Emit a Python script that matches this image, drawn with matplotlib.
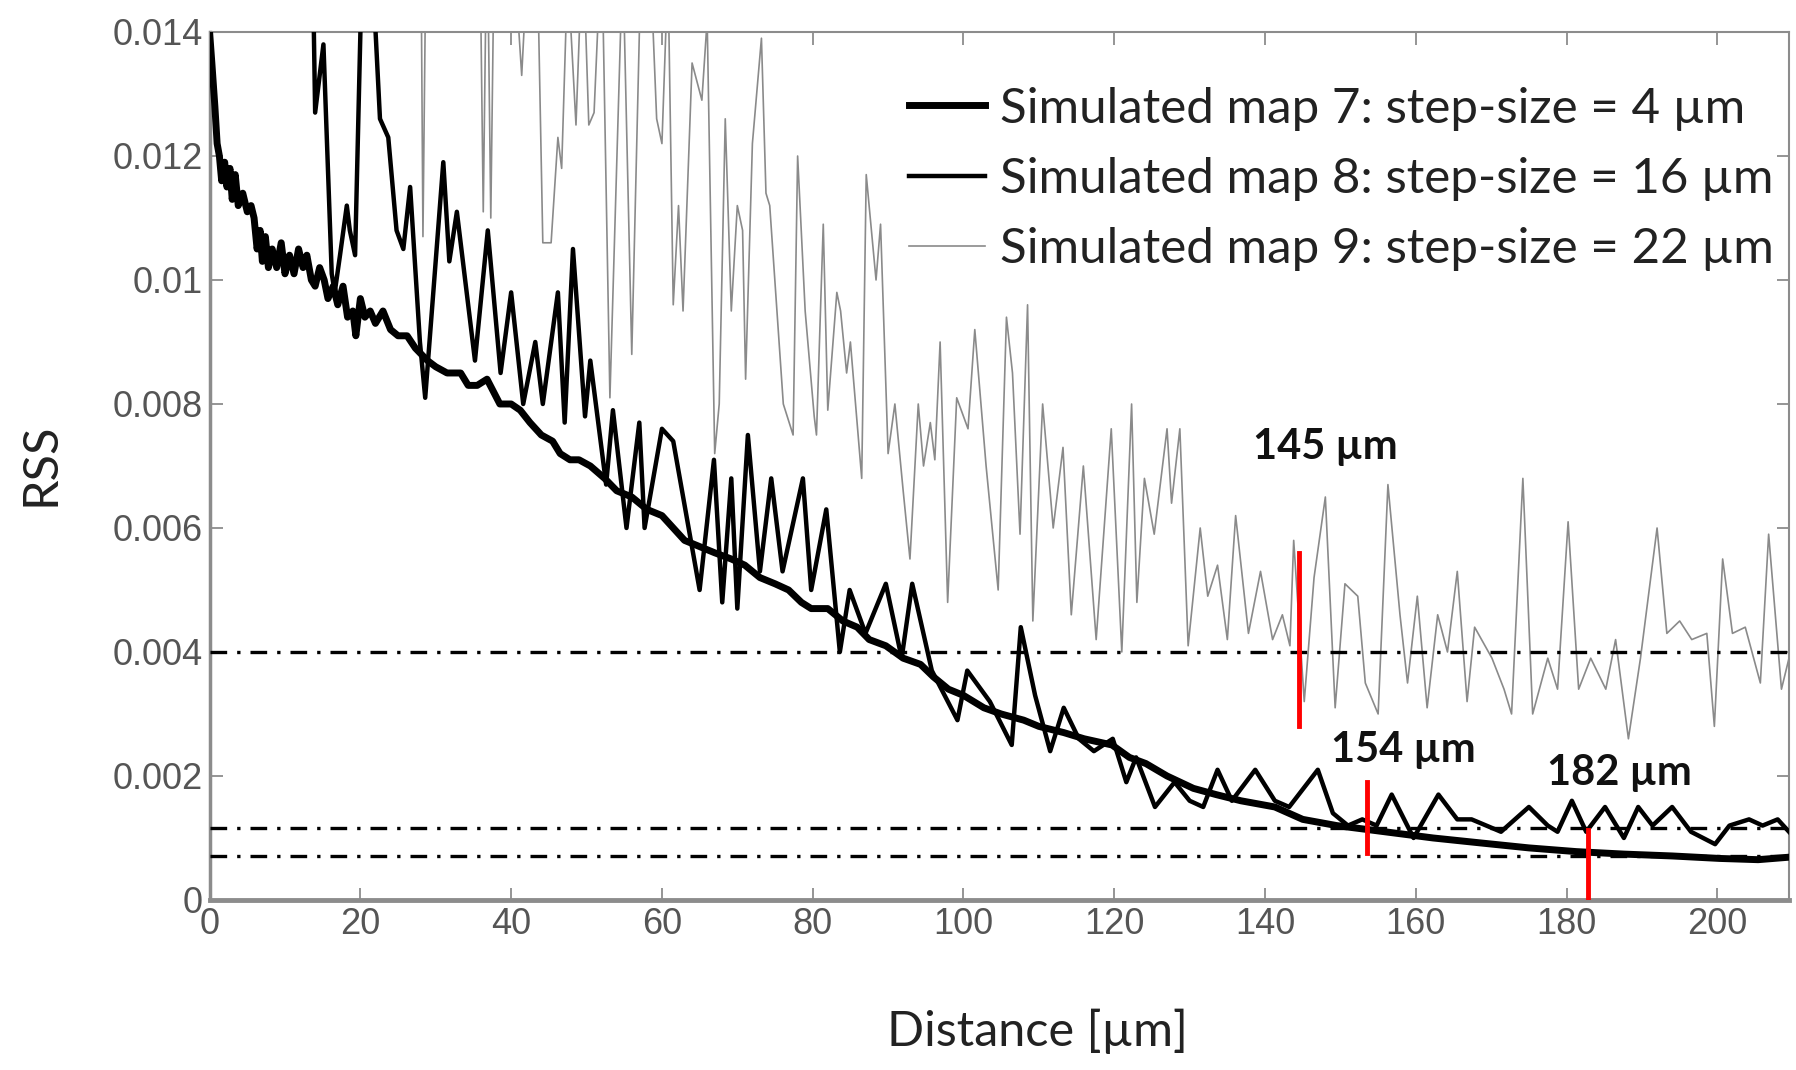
import numpy as np
import matplotlib
matplotlib.use("Agg")
import matplotlib.pyplot as plt

# --- data ---------------------------------------------------------------
# simulated map 7 (step-size 4 um)
map7_x = [0.0, 0.3, 0.7, 1.0, 1.3, 1.6, 2.0, 2.3, 2.7, 3.0, 3.4, 3.8, 4.4, 5.0, 5.5,
          5.9, 6.3, 6.7, 7.0, 7.4, 7.8, 8.3, 8.9, 9.5, 10.0, 10.6, 11.2, 11.8, 12.4,
          12.9, 13.5, 14.0, 14.6, 15.2, 15.7, 16.4, 17.0, 17.7, 18.3, 19.0, 19.4,
          20.0, 20.6, 21.3, 22.0, 23.0, 24.0, 25.0, 26.2, 27.3, 28.9, 30.0, 31.5,
          33.3, 34.3, 35.5, 36.8, 38.5, 40.0, 41.2, 42.5, 44.0, 45.5, 46.5, 47.8,
          49.0, 50.5, 52.4, 54.0, 56.0, 58.0, 60.0, 61.5, 63.0, 65.0, 67.0, 69.2,
          71.0, 73.0, 75.0, 76.8, 78.5, 79.8, 82.0, 84.0, 85.9, 87.5, 89.7, 92.0,
          94.3, 96.0, 98.0, 100.0, 102.7, 105.0, 108.0, 110.0, 113.3, 116.0, 119.7,
          122.0, 124.2, 127.0, 130.5, 133.5, 136.8, 141.3, 145.0, 149.5, 155.9,
          162.3, 168.6, 175.0, 181.3, 187.6, 194.0, 200.3, 205.4, 209.5]
map7_y = [0.0140, 0.0135, 0.0128, 0.0122, 0.0120, 0.0116, 0.0119, 0.0115, 0.0118,
          0.0113, 0.0117, 0.0112, 0.0114, 0.0111, 0.0112, 0.0110, 0.0105, 0.0108,
          0.0103, 0.0107, 0.0102, 0.0105, 0.0102, 0.0106, 0.0101, 0.0104, 0.0101,
          0.0105, 0.0102, 0.0104, 0.0100, 0.0099, 0.0102, 0.0100, 0.0097, 0.0099,
          0.0096, 0.0099, 0.0094, 0.0095, 0.0091, 0.0097, 0.0094, 0.0095, 0.0093,
          0.0095, 0.0092, 0.0091, 0.0091, 0.0089, 0.0087, 0.0086, 0.0085, 0.0085,
          0.0083, 0.0083, 0.0084, 0.0080, 0.0080, 0.0079, 0.0077, 0.0075, 0.0074,
          0.0072, 0.0071, 0.0071, 0.0070, 0.0068, 0.0066, 0.0065, 0.0063, 0.0062,
          0.0060, 0.0058, 0.0057, 0.0056, 0.0055, 0.0054, 0.0052, 0.0051, 0.0050,
          0.0048, 0.0047, 0.0047, 0.0045, 0.0044, 0.0042, 0.0041, 0.0039, 0.0038,
          0.0036, 0.0034, 0.0033, 0.0031, 0.0030, 0.0029, 0.0028, 0.0027, 0.0026,
          0.0025, 0.0023, 0.0022, 0.0020, 0.0018, 0.0017, 0.0016, 0.0015, 0.0013,
          0.0012, 0.0011, 0.0010, 0.00092, 0.00084, 0.00078, 0.00074, 0.00071,
          0.00067, 0.00065, 0.00069]

# simulated map 8 (step-size 16 um)
map8_x = [13.7, 14.0, 14.6, 15.1, 16.2, 16.6, 17.3, 18.2, 18.6, 19.3, 20.2, 21.6,
          22.6, 23.7, 24.8, 25.7, 26.6, 27.9, 28.6, 31.0, 31.8, 32.8, 35.2, 36.9,
          38.6, 40.0, 41.6, 43.2, 44.2, 46.2, 47.1, 48.2, 49.8, 50.5, 52.6, 53.5,
          55.3, 57.0, 57.7, 60.0, 61.5, 65.0, 66.9, 68.0, 69.2, 70.0, 71.4, 73.0,
          74.5, 76.0, 78.7, 79.8, 81.8, 83.6, 84.9, 87.0, 89.7, 91.8, 93.2, 95.8,
          99.2, 100.5, 103.5, 106.4, 107.6, 109.5, 111.5, 113.3, 115.3, 117.3,
          119.8, 121.6, 122.9, 125.4, 128.0, 130.0, 131.8, 133.7, 135.6, 138.7,
          141.3, 143.2, 147.0, 149.0, 151.0, 152.9, 154.8, 156.8, 159.7, 163.0,
          165.5, 167.4, 171.3, 175.0, 177.5, 178.8, 180.7, 182.6, 185.1, 187.6,
          189.5, 191.4, 194.0, 196.5, 199.7, 201.6, 204.2, 206.0, 208.0, 209.5]
map8_y = [0.0150, 0.0127, 0.0133, 0.0138, 0.0101, 0.0098, 0.0104, 0.0112, 0.0108,
          0.0104, 0.0150, 0.0150, 0.0126, 0.0123, 0.0108, 0.0105, 0.0115, 0.0090,
          0.0081, 0.0119, 0.0103, 0.0111, 0.0087, 0.0108, 0.0085, 0.0098, 0.0080,
          0.0090, 0.0080, 0.0098, 0.0077, 0.0105, 0.0078, 0.0087, 0.0067, 0.0079,
          0.0060, 0.0077, 0.0060, 0.0076, 0.0074, 0.0050, 0.0071, 0.0048, 0.0068,
          0.0047, 0.0075, 0.0053, 0.0068, 0.0053, 0.0068, 0.0050, 0.0063, 0.0040,
          0.0050, 0.0043, 0.0051, 0.0039, 0.0051, 0.0037, 0.0029, 0.0037, 0.0032,
          0.0025, 0.0044, 0.0033, 0.0024, 0.0031, 0.0026, 0.0024, 0.0026, 0.0019,
          0.0023, 0.0015, 0.0019, 0.0016, 0.0015, 0.0021, 0.0016, 0.0021, 0.0016,
          0.0015, 0.0021, 0.0014, 0.0012, 0.0013, 0.0012, 0.0017, 0.0010, 0.0017,
          0.0013, 0.0013, 0.0011, 0.0015, 0.0012, 0.0011, 0.0016, 0.0011, 0.0015,
          0.0010, 0.0015, 0.0012, 0.0015, 0.0011, 0.0009, 0.0012, 0.0013, 0.0012,
          0.0013, 0.0011]

# simulated map 9 (step-size 22 um)
map9_x = [28.0, 28.3, 28.8, 35.8, 36.3, 36.8, 37.3, 37.8, 39.5, 40.5, 41.4, 42.2,
          43.5, 44.2, 45.3, 46.2, 46.7, 47.5, 48.6, 49.5, 50.3, 51.0, 52.0, 53.1,
          54.8, 56.0, 57.3, 58.5, 59.3, 60.0, 60.8, 61.5, 62.2, 62.8, 64.0, 65.3,
          66.0, 67.0, 67.6, 68.4, 69.2, 70.0, 70.7, 71.1, 72.0, 73.2, 73.8, 74.3,
          76.1, 77.4, 78.0, 79.0, 80.2, 80.5, 81.4, 82.0, 83.2, 83.7, 84.5, 85.0,
          86.5, 87.1, 88.4, 89.0, 90.0, 90.9, 92.0, 92.9, 94.0, 94.7, 95.6, 96.2,
          96.9, 97.9, 99.1, 100.6, 101.5, 103.0, 104.6, 105.7, 106.5, 107.5, 108.5,
          109.2, 110.5, 111.2, 111.9, 113.2, 114.3, 115.9, 117.6, 119.6, 121.0,
          122.3, 123.0, 124.0, 125.3, 127.0, 127.6, 128.7, 129.8, 131.4, 132.4,
          133.7, 135.0, 136.1, 137.8, 139.4, 141.0, 142.3, 143.3, 143.8, 145.2,
          146.5, 148.0, 149.3, 150.6, 152.3, 153.3, 155.0, 156.3, 157.9, 158.9,
          160.2, 161.5, 162.9, 164.2, 165.5, 166.8, 167.8, 170.1, 171.7, 172.7,
          174.2, 175.5, 177.5, 178.8, 180.2, 181.6, 183.2, 185.2, 186.5, 188.2,
          189.8, 192.0, 193.3, 195.0, 196.6, 198.6, 199.6, 200.7, 202.0, 203.7,
          205.7, 206.8, 208.5, 209.5]
map9_y = [0.0160, 0.0107, 0.0165, 0.0160, 0.0111, 0.0160, 0.0110, 0.0158, 0.0155,
          0.0150, 0.0133, 0.0152, 0.0150, 0.0106, 0.0106, 0.0123, 0.0118, 0.0150,
          0.0125, 0.0155, 0.0125, 0.0127, 0.0155, 0.0081, 0.0152, 0.0088, 0.0155,
          0.0150, 0.0126, 0.0122, 0.0150, 0.0096, 0.0112, 0.0095, 0.0135, 0.0129,
          0.0142, 0.0072, 0.0080, 0.0126, 0.0095, 0.0112, 0.0108, 0.0084, 0.0122,
          0.0139, 0.0114, 0.0112, 0.0080, 0.0075, 0.0120, 0.0095, 0.0078, 0.0075,
          0.0109, 0.0079, 0.0098, 0.0095, 0.0085, 0.0090, 0.0068, 0.0117, 0.0100,
          0.0109, 0.0072, 0.0080, 0.0066, 0.0055, 0.0080, 0.0070, 0.0077, 0.0071,
          0.0090, 0.0048, 0.0081, 0.0076, 0.0092, 0.0070, 0.0050, 0.0094, 0.0085,
          0.0059, 0.0096, 0.0045, 0.0080, 0.0070, 0.0060, 0.0073, 0.0046, 0.0070,
          0.0042, 0.0076, 0.0040, 0.0080, 0.0048, 0.0068, 0.0059, 0.0076, 0.0064,
          0.0076, 0.0041, 0.0060, 0.0049, 0.0054, 0.0042, 0.0062, 0.0043, 0.0053,
          0.0042, 0.0046, 0.0041, 0.0058, 0.0032, 0.0052, 0.0065, 0.0031, 0.0051,
          0.0049, 0.0035, 0.0030, 0.0067, 0.0046, 0.0035, 0.0049, 0.0031, 0.0046,
          0.0040, 0.0053, 0.0032, 0.0044, 0.0039, 0.0034, 0.0030, 0.0068, 0.0030,
          0.0039, 0.0034, 0.0061, 0.0034, 0.0039, 0.0034, 0.0042, 0.0026, 0.0039,
          0.0060, 0.0043, 0.0045, 0.0042, 0.0043, 0.0028, 0.0055, 0.0043, 0.0044,
          0.0035, 0.0059, 0.0034, 0.0039]

labels = ["Simulated map 7: step-size = 4 \u00b5m",
          "Simulated map 8: step-size = 16 \u00b5m",
          "Simulated map 9: step-size = 22 \u00b5m"]

thresholds = [0.004, 0.00116, 0.00071]
marker_x = [144.5, 153.5, 182.8]
marker_lo = [0.0028, 0.00076, 0.0]
marker_hi = [0.0056, 0.0019, 0.00113]
marker_text = ["145 \u00b5m", "154 \u00b5m", "182 \u00b5m"]

x_ticks = [0, 20, 40, 60, 80, 100, 120, 140, 160, 180, 200]
y_ticks = [0, 0.002, 0.004, 0.006, 0.008, 0.01, 0.012, 0.014]
y_ticklabels = ["0", "0.002", "0.004", "0.006", "0.008", "0.01", "0.012", "0.014"]

# --- figure ---------------------------------------------------------------
fig = plt.figure(figsize=(17.96, 10.70), dpi=100)
ax = fig.add_axes([0.1167, 0.1589, 0.9961 - 0.1167, 0.9701 - 0.1589])

ax.plot(map7_x, map7_y, color="black", lw=5, label=labels[0], zorder=3)
ax.plot(map8_x, map8_y, color="black", lw=3.2, label=labels[1], zorder=4)
ax.plot(map9_x, map9_y, color="#8a8a8a", lw=1.2, label=labels[2], zorder=2)

for t in thresholds:
    ax.axhline(t, color="black", lw=2.4, linestyle=(0, (5, 3, 1, 3)), zorder=5)

for xm, lo, hi in zip(marker_x, marker_lo, marker_hi):
    ax.plot([xm, xm], [lo, hi], color="red", lw=3.5, zorder=6)

txt_font = dict(family="Lato", fontsize=30, fontweight="bold", color="#111111")
ax.text(148, 0.0073, marker_text[0], ha="center", va="center", **txt_font)
ax.text(158.3, 0.00242, marker_text[1], ha="center", va="center", **txt_font)
ax.text(187, 0.00205, marker_text[2], ha="center", va="center", **txt_font)

ax.set_xlim(0, 209.5)
ax.set_ylim(0, 0.014)
ax.set_xticks(x_ticks)
ax.set_yticks(y_ticks)
ax.set_yticklabels(y_ticklabels)

for s in ax.spines.values():
    s.set_color("#8c8c8c")
    s.set_linewidth(1.5)
ax.spines["bottom"].set_linewidth(3.5)
ax.spines["left"].set_linewidth(2.5)

ax.tick_params(direction="in", length=9, width=1.3, color="#8c8c8c",
               top=True, right=True, labelsize=26, labelcolor="#555555", pad=5)
for lab in ax.get_xticklabels() + ax.get_yticklabels():
    lab.set_family("Liberation Sans")

ax.set_xlabel("Distance [\u00b5m]", family="Lato", fontsize=35, color="#222222", va="center")
ax.xaxis.set_label_coords(0.524, -0.151)
ax.set_ylabel("RSS", family="Lato", fontsize=35, color="#222222", va="center")
ax.yaxis.set_label_coords(-0.107, 0.502)

leg = ax.legend(loc="upper right", bbox_to_anchor=(1.009, 0.971), frameon=False,
                prop=dict(family="Lato", size=35.5), handlelength=1.55, handletextpad=0.3,
                labelspacing=0.53, borderaxespad=0.2)
for t in leg.get_texts():
    t.set_color("#222222")

fig.savefig("out.png", dpi=100)
